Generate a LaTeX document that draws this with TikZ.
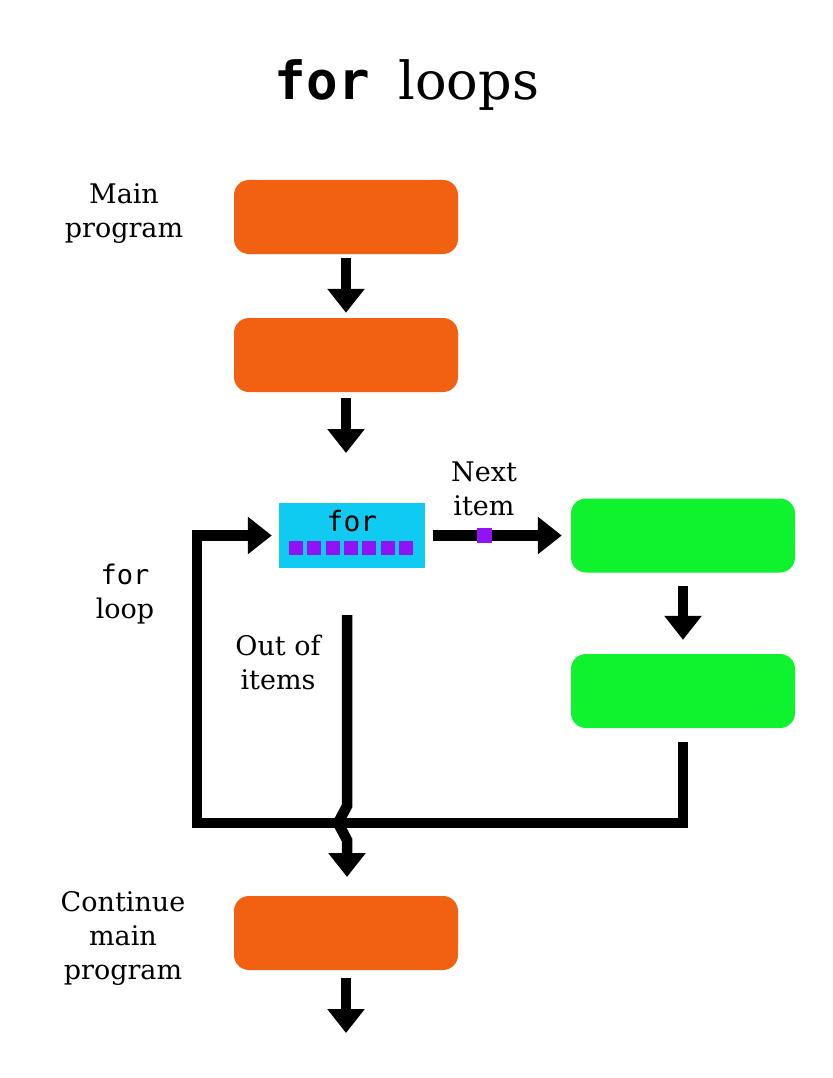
\documentclass[tikz,border=0pt]{standalone}
\usepackage{fontspec}
\setmainfont{DejaVu Serif}
\setmonofont{DejaVu Sans Mono}
\usetikzlibrary{arrows.meta}
\definecolor{orangeC}{HTML}{F26012}
\definecolor{greenC}{HTML}{0FF22E}
\definecolor{cyanC}{HTML}{0FCBF2}
\definecolor{purpleC}{HTML}{9012F5}
\begin{document}
\begin{tikzpicture}[x=1pt,y=-1pt,
 box/.style={draw=none,rounded corners=15pt,minimum width=224pt,minimum height=74pt,inner sep=0pt},
 obox/.style={box,fill=orangeC},
 gbox/.style={box,fill=greenC},
 arr/.style={line width=10.5pt,line join=miter,-{Triangle[width=36pt,length=24pt]}},
 lbl/.style={align=center,inner sep=0pt,font=\fontsize{27}{34}\selectfont},
 sq/.style={fill=purpleC,minimum size=14pt,inner sep=0pt}]
\fill[white] (0,0) rectangle (832,1078);
\useasboundingbox (0,0) rectangle (832,1078);
% title
\node[anchor=base,inner sep=0pt] (title) at (407,100) {\fontsize{52.5}{62}\selectfont\texttt{\bfseries for}\hspace{0.55em}loops};
% boxes
\node[obox] (m1) at (346,217) {};
\node[obox] (m2) at (346,355) {};
\node[obox] (m3) at (346,933) {};
\node[gbox] (g1) at (683,535.5) {};
\node[gbox] (g2) at (683,691) {};
\node[fill=cyanC,minimum width=146pt,minimum height=65pt,inner sep=0pt] (fb) at (352,535.5) {};
\node[anchor=base,inner sep=0pt,font=\ttfamily\fontsize{28}{34}\selectfont] (fortxt) at (352,531) {for};
\foreach \i in {0,...,6} \node[sq] (s\i) at (296+\i*18.3,548) {};
% coordinates
\coordinate (a2) at (346,453);
\coordinate (br) at (683,823);
\coordinate (bl) at (197,823);
\coordinate (o1) at (347,615);
\coordinate (h1) at (347,806);
\coordinate (h2) at (338,823);
\coordinate (h3) at (347,840);
\coordinate (o2) at (347,877);
\coordinate (a3) at (346,1033);
% connectors
\draw[arr,shorten <=4pt,shorten >=5pt] (m1) -- (m2);
\draw[arr,shorten <=6pt] (m2) -- (a2);
\draw[arr,shorten <=8pt,shorten >=9pt] (fb) -- (g1);
\draw[arr,shorten <=13pt,shorten >=14pt] (g1) -- (g2);
\draw[arr,shorten >=7pt] ([yshift=-14pt]g2.south) -- (br) -- (bl) |- (fb.west);
\draw[arr] (o1) -- (h1) -- (h2) -- (h3) -- (o2);
\draw[arr,shorten <=8pt] (m3) -- (a3);
\node[sq,minimum size=15pt] (ps) at (484.5,535.5) {};
% labels
\node[lbl] (lmain) at (124,214) {Main\\program};
\node[lbl] (lloop) at (125,594) {\texttt{for}\\loop};
\node[lbl] (lout) at (278,662) {Out of\\items};
\node[lbl] (lnext) at (484,489) {Next\\item};
\node[lbl] (lcont) at (123,938) {Continue\\main\\program};
\end{tikzpicture}
\end{document}
